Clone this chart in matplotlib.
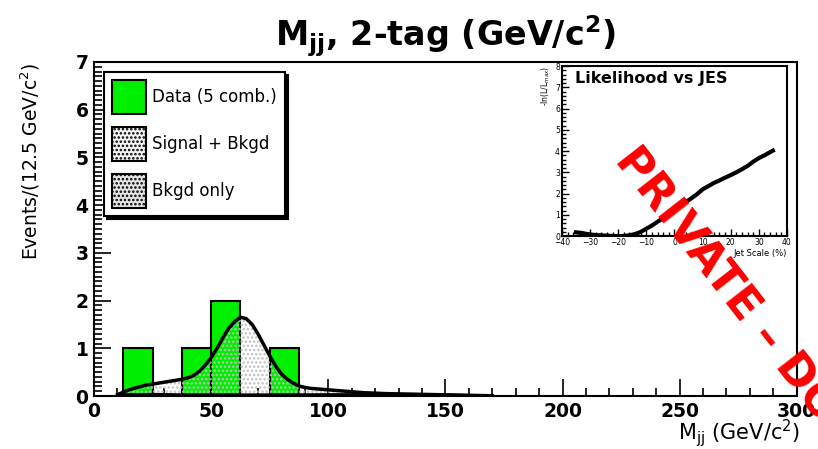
import matplotlib
matplotlib.use('Agg')
import matplotlib.pyplot as plt
from matplotlib.patches import Patch
from matplotlib.ticker import MultipleLocator

plt.rcParams['font.family'] = ['DejaVu Sans']
plt.rcParams['mathtext.fontset'] = 'dejavusans'
plt.rcParams['hatch.linewidth'] = 1.2

# histogramme des donnees (bins de 12.5 GeV)
bin_edges = [12.5, 37.5, 50.0, 75.0]
bin_counts = [1, 1, 2, 1]
bin_width = 12.5

# courbe signal + bruit de fond
sb_mass = [10, 12.5, 15, 17.5, 20, 22.5, 25, 27.5, 30, 32.5, 35, 37.5, 40, 42.5, 45,
           47.5, 50, 52.5, 55, 57.5, 60, 62.5, 65, 67.5, 70, 72.5, 75, 77.5, 80,
           82.5, 85, 87.5, 90, 92.5, 95, 97.5, 100, 105, 110, 115, 120, 125, 130,
           135, 140, 145, 150, 155, 160, 165, 170]
sb_events = [0.03, 0.08, 0.13, 0.17, 0.20, 0.23, 0.25, 0.27, 0.29, 0.31, 0.33, 0.35,
             0.38, 0.43, 0.52, 0.65, 0.80, 1.00, 1.22, 1.42, 1.56, 1.65, 1.62, 1.50,
             1.30, 1.07, 0.84, 0.63, 0.46, 0.35, 0.27, 0.21, 0.18, 0.16, 0.15, 0.14,
             0.13, 0.11, 0.09, 0.07, 0.06, 0.05, 0.045, 0.04, 0.035, 0.03, 0.025,
             0.02, 0.015, 0.01, 0.005]

# bruit de fond seul
bkg_mass = [10, 25, 40, 60, 80, 100, 130, 150, 170]
bkg_events = [0.04, 0.05, 0.04, 0.04, 0.04, 0.045, 0.045, 0.035, 0.02]

# encart : vraisemblance vs JES
jes = [-35, -33, -31, -28, -25, -22, -20, -18, -16, -14, -12, -10, -8, -6, -4, -2,
       0, 2, 4, 6, 8, 10, 12, 14, 16, 18, 20, 22, 24, 26, 28, 30, 32, 34, 35]
nll = [0.18, 0.15, 0.10, 0.05, 0.03, 0.01, 0.0, 0.01, 0.04, 0.10, 0.20, 0.35, 0.50,
       0.68, 0.85, 1.03, 1.22, 1.42, 1.60, 1.78, 1.97, 2.20, 2.35, 2.50, 2.62, 2.75,
       2.87, 3.00, 3.15, 3.30, 3.50, 3.67, 3.80, 3.95, 4.02]

green = '#00ee00'

fig = plt.figure(figsize=(8.18, 4.49), dpi=100)
ax = fig.add_axes([0.115, 0.118, 0.859, 0.744])

ax.bar(bin_edges, bin_counts, width=bin_width, align='edge', color=green,
       edgecolor='black', linewidth=1.5, zorder=2)
ax.fill_between(sb_mass, 0, sb_events, facecolor='none', hatch='....',
                edgecolor='#c0c0c0', linewidth=0, zorder=3)
ax.fill_between(bkg_mass, 0, bkg_events, color='black', linewidth=1.8, zorder=4)
ax.plot(sb_mass, sb_events, color='black', linewidth=2.5, zorder=5)

ax.set_xlim(0, 300)
ax.set_ylim(0, 7)
ax.xaxis.set_major_locator(MultipleLocator(50))
ax.xaxis.set_minor_locator(MultipleLocator(10))
ax.yaxis.set_major_locator(MultipleLocator(1))
ax.yaxis.set_minor_locator(MultipleLocator(0.1))
ax.tick_params(which='both', direction='in', top=False, right=False, width=1.2)
ax.tick_params(which='major', length=12, labelsize=13.5, pad=4)
ax.tick_params(which='minor', length=6)
for lab in ax.get_xticklabels() + ax.get_yticklabels():
    lab.set_fontweight('bold')
for sp in ax.spines.values():
    sp.set_linewidth(1.5)

handles = [
    Patch(facecolor=green, edgecolor='black', linewidth=1.5, label='Data (5 comb.)'),
    Patch(facecolor='#f4f4f4', edgecolor='black', hatch='....', linewidth=1.5,
          label='Signal + Bkgd'),
    Patch(facecolor='#e4e4e4', edgecolor='black', hatch='....', linewidth=1.5,
          label='Bkgd only'),
]
leg = ax.legend(handles=handles, loc='upper left', fontsize=12, frameon=True,
                fancybox=False, shadow={'color': 'black', 'alpha': 1},
                handlelength=2.04, handleheight=2.76, labelspacing=0.78,
                borderpad=0.48, handletextpad=0.36, borderaxespad=0.6)
leg.get_frame().set_edgecolor('black')
leg.get_frame().set_linewidth(1.5)
leg.set_zorder(10)

fig.text(0.545, 0.92, r'$\mathbf{M_{jj}}$, 2-tag (GeV/c$^{\mathbf{2}}$)',
         fontsize=24, fontweight='bold', ha='center', va='center')
fig.text(0.037, 0.86, r'Events/(12.5 GeV/c$^2$)', fontsize=13.5, rotation=90,
         ha='center', va='top')
fig.text(0.978, 0.036, r'M$_{\mathrm{jj}}$ (GeV/c$^2$)', fontsize=15,
         ha='right', va='center')

# encart
ins = fig.add_axes([0.687, 0.474, 0.275, 0.379])
ins.plot(jes, nll, color='black', linewidth=3)
ins.set_xlim(-40, 40)
ins.set_ylim(0, 8)
ins.xaxis.set_major_locator(MultipleLocator(10))
ins.xaxis.set_minor_locator(MultipleLocator(2))
ins.yaxis.set_major_locator(MultipleLocator(1))
ins.yaxis.set_minor_locator(MultipleLocator(0.2))
ins.tick_params(which='both', direction='in', top=False, right=False, width=1.0)
ins.tick_params(which='major', length=5, labelsize=5.5, pad=1.5)
ins.tick_params(which='minor', length=3)
for sp in ins.spines.values():
    sp.set_linewidth(1.5)
ins.text(0.06, 0.97, 'Likelihood vs JES', transform=ins.transAxes, fontsize=11.5,
         fontweight='bold', ha='left', va='top')
ins.set_ylabel(r'-ln(L/L$_{max}$)', fontsize=5.5, loc='top', labelpad=2)
ins.set_xlabel('Jet Scale (%)', fontsize=6, loc='right', labelpad=1)

fig.text(0.762, 0.66, 'PRIVATE – DO', color='red', fontsize=32,
         fontweight='bold', rotation=-52, rotation_mode='anchor',
         ha='left', va='center', zorder=20)

fig.savefig('out.png', dpi=100)
